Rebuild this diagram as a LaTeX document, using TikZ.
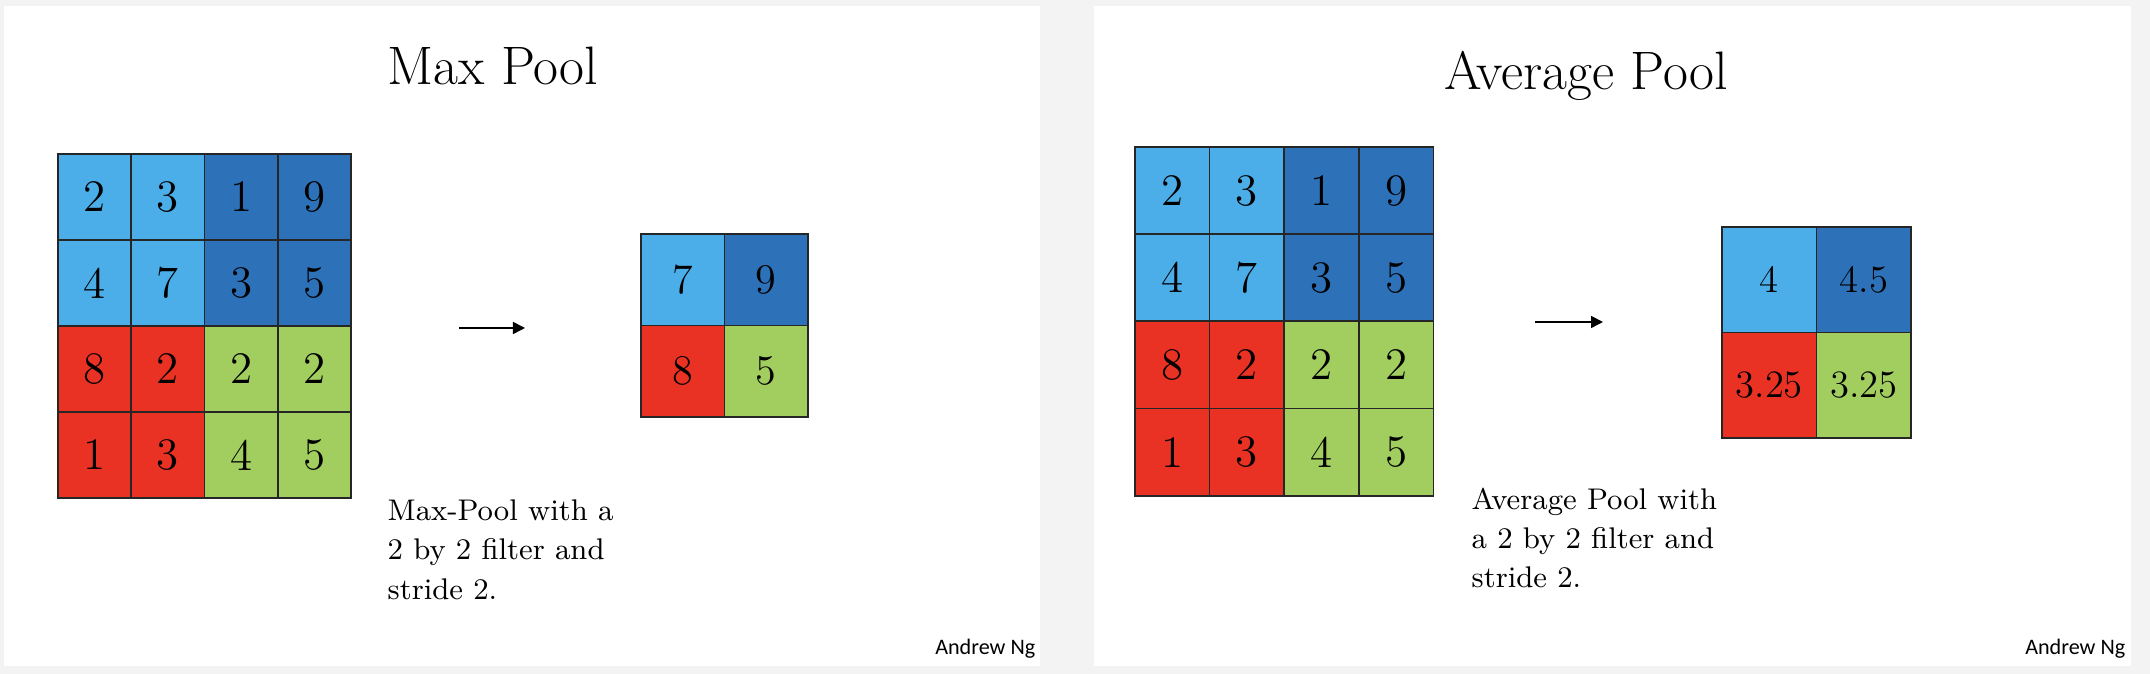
\documentclass[tikz,border=0pt]{standalone}
\usepackage{fontspec}
\newfontfamily\signfont{Carlito}
\usetikzlibrary{arrows.meta}

\definecolor{lb}{HTML}{4BAEE8}
\definecolor{db}{HTML}{2D71B8}
\definecolor{rd}{HTML}{E93223}
\definecolor{gr}{HTML}{A2CD5F}
\definecolor{pagegray}{HTML}{F3F3F3}

\begin{document}
\begin{tikzpicture}[
      x=0.01cm, y=-0.01cm,
      cell/.style 2 args={rectangle, draw=black!85, line width=0.5pt, inner sep=0pt, minimum width=#1, minimum height=#2},
      inp/.style={font=\fontsize{12.8}{15}\selectfont},
      outp/.style={font=\fontsize{12}{14}\selectfont},
      ttl/.style={inner sep=0pt, font=\fontsize{15.4}{18}\selectfont},
      note/.style={inner sep=0pt, align=left, font=\fontsize{8.5}{11.2}\selectfont},
      sign/.style={inner sep=0pt, font=\signfont\fontsize{6.3}{7.5}\selectfont},
      arrow/.style={-{Triangle[length=1.2mm, width=1.2mm]}, line width=0.45pt}
    ]
    \useasboundingbox (0,0) rectangle (2150,674);

    % slide panels
    \fill[pagegray] (0,0) rectangle (2150,674);
    \fill[white] (4,6) rectangle (1040,666);
    \fill[white] (1094,6) rectangle (2131,666);

    % max pool
    \node[ttl, anchor=base] (maxttl) at (493,85) {Max Pool};
    \foreach \row [count=\r] in {{2/lb,3/lb,1/db,9/db},{4/lb,7/lb,3/db,5/db},{8/rd,2/rd,2/gr,2/gr},{1/rd,3/rd,4/gr,5/gr}}
      \foreach \v/\col [count=\c] in \row
        \node[cell={0.7325cm}{0.86cm}, inp, fill=\col] (max-\r-\c) at ({58+(\c-0.5)*73.25},{154+(\r-0.5)*86}) {\v};
    \foreach \row [count=\r] in {{7/lb,9/db},{8/rd,5/gr}}
      \foreach \v/\col [count=\c] in \row
        \node[cell={0.835cm}{0.915cm}, outp, fill=\col] (maxout-\r-\c) at ({641+(\c-0.5)*83.5},{234+(\r-0.5)*91.5}) {\v};
    \coordinate (maxfrom) at (459,328);
    \coordinate (maxto) at (525,328);
    \draw[arrow] (maxfrom) -- (maxto);
    \node[note, anchor=north west] (maxnote) at (387,499) {Max-Pool with a\\2 by 2 filter and\\stride 2.};
    \node[sign, anchor=base east] (maxsign) at (1036,655) {Andrew Ng};

    % average pool
    \node[ttl, anchor=base] (avgttl) at (1586,90) {Average Pool};
    \foreach \row [count=\r] in {{2/lb,3/lb,1/db,9/db},{4/lb,7/lb,3/db,5/db},{8/rd,2/rd,2/gr,2/gr},{1/rd,3/rd,4/gr,5/gr}}
      \foreach \v/\col [count=\c] in \row
        \node[cell={0.746cm}{0.872cm}, inp, fill=\col] (avg-\r-\c) at ({1135+(\c-0.5)*74.6},{147+(\r-0.5)*87.2}) {\v};
    \foreach \row [count=\r] in {{4/lb,4.5/db},{3.25/rd,3.25/gr}}
      \foreach \v/\col [count=\c] in \row
        \node[cell={0.945cm}{1.055cm}, outp, font=\fontsize{11}{13}\selectfont, fill=\col] (avgout-\r-\c) at ({1722+(\c-0.5)*94.5},{227+(\r-0.5)*105.5}) {\v};
    \coordinate (avgfrom) at (1535,322);
    \coordinate (avgto) at (1603,322);
    \draw[arrow] (avgfrom) -- (avgto);
    \node[note, anchor=north west] (avgnote) at (1471,487) {Average Pool with\\a 2 by 2 filter and\\stride 2.};
    \node[sign, anchor=base east] (avgsign) at (2126,655) {Andrew Ng};
  \end{tikzpicture}
\end{document}
